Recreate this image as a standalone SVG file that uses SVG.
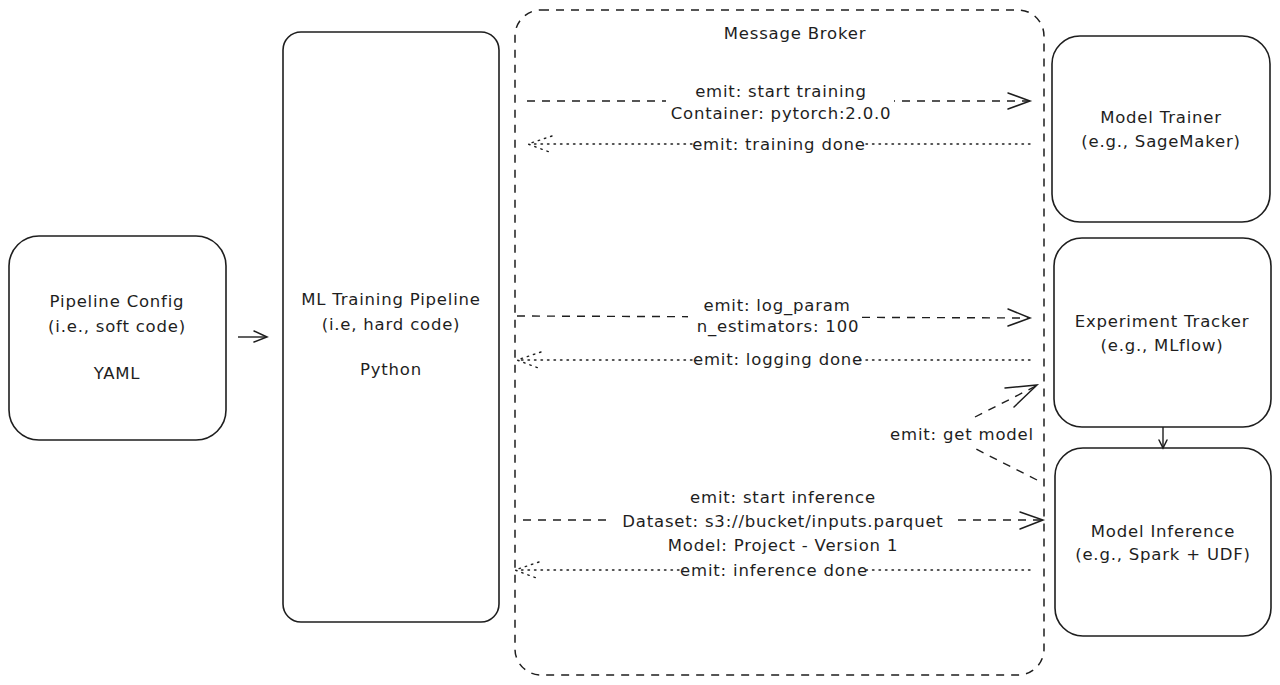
<svg xmlns="http://www.w3.org/2000/svg" width="1280" height="685" viewBox="0 0 1280 685">
<style>
.box{fill:#fff;stroke:#1e1e1e;stroke-width:1.6}
.broker{fill:none;stroke:#1e1e1e;stroke-width:1.5;stroke-dasharray:8 7}
.t{font-family:"DejaVu Sans","Liberation Sans",sans-serif;font-size:16.5px;letter-spacing:0.8px;fill:#1e1e1e;text-anchor:middle;dominant-baseline:middle}
.dash{fill:none;stroke:#1e1e1e;stroke-width:1.4;stroke-dasharray:8 7}
.dot{fill:none;stroke:#1e1e1e;stroke-width:1.4;stroke-dasharray:1.5 5;stroke-linecap:round}
.solid{fill:none;stroke:#1e1e1e;stroke-width:1.4}
.head{fill:none;stroke:#1e1e1e;stroke-width:1.5;stroke-linecap:round}
.bg{fill:#fff}
</style>
<rect width="1280" height="685" fill="#fff"/>
<g id="broker">
<rect class="broker" x="515" y="10" width="529" height="665" rx="26"/>
<text class="t" x="795" y="34">Message Broker</text>
</g>
<g id="pipeline-config">
<rect class="box" x="9" y="236" width="217" height="204" rx="30"/>
<text class="t" x="117" y="302">Pipeline Config</text>
<text class="t" x="117" y="327">(i.e., soft code)</text>
<text class="t" x="117" y="374">YAML</text>
</g>
<g id="ml-training-pipeline">
<rect class="box" x="283" y="32" width="216" height="590" rx="18"/>
<text class="t" x="391" y="300">ML Training Pipeline</text>
<text class="t" x="391" y="325">(i.e, hard code)</text>
<text class="t" x="391" y="370">Python</text>
</g>
<g id="model-trainer">
<rect class="box" x="1052" y="36" width="218" height="186" rx="28"/>
<text class="t" x="1161" y="118">Model Trainer</text>
<text class="t" x="1161" y="142">(e.g., SageMaker)</text>
</g>
<g id="experiment-tracker">
<rect class="box" x="1054" y="238" width="217" height="189" rx="28"/>
<text class="t" x="1162" y="322">Experiment Tracker</text>
<text class="t" x="1162" y="346">(e.g., MLflow)</text>
</g>
<g id="model-inference">
<rect class="box" x="1055" y="448" width="216" height="188" rx="28"/>
<text class="t" x="1163" y="532">Model Inference</text>
<text class="t" x="1163" y="555">(e.g., Spark + UDF)</text>
</g>
<g id="connectors">
<!-- config -> pipeline -->
<line class="solid" x1="238" y1="337" x2="266" y2="337"/>
<path class="head" d="M254,331 L267,337 L254,342"/>
<!-- start training -->
<line class="dash" x1="527" y1="101" x2="1029" y2="101"/>
<path class="head" d="M1008,93 L1030,101 L1008,109"/>
<rect class="bg" x="666" y="82" width="228" height="42"/>
<text class="t" x="781" y="92">emit: start training</text>
<text class="t" x="781" y="114">Container: pytorch:2.0.0</text>
<!-- training done -->
<line class="dot" x1="1030" y1="144" x2="530" y2="144"/>
<path class="dot" d="M552,136 L528,144 L552,153"/>
<rect class="bg" x="693" y="135" width="171" height="20"/>
<text class="t" x="779" y="145">emit: training done</text>
<!-- log param -->
<line class="dash" x1="517" y1="316" x2="1029" y2="318"/>
<path class="head" d="M1008,309 L1030,318 L1008,326"/>
<rect class="bg" x="688" y="296" width="172" height="42"/>
<text class="t" x="777" y="306">emit: log_param</text>
<text class="t" x="778" y="327">n_estimators: 100</text>
<!-- logging done -->
<line class="dot" x1="1030" y1="360" x2="519" y2="360"/>
<path class="dot" d="M541,352 L517,360 L541,369"/>
<rect class="bg" x="697" y="350" width="161" height="20"/>
<text class="t" x="778" y="360">emit: logging done</text>
<!-- get model -->
<path class="dash" d="M1037,480 L972,447 M975,417 L1036,386"/>
<path class="head" d="M1005,388 L1037,385 L1014,407"/>
<text class="t" x="962" y="435">emit: get model</text>
<!-- start inference -->
<line class="dash" x1="523" y1="520" x2="1042" y2="520"/>
<path class="head" d="M1020,512 L1043,520 L1020,529"/>
<rect class="bg" x="610" y="487" width="347" height="70"/>
<text class="t" x="783" y="498">emit: start inference</text>
<text class="t" x="783" y="522">Dataset: s3://bucket/inputs.parquet</text>
<text class="t" x="783" y="546">Model: Project - Version 1</text>
<!-- inference done -->
<line class="dot" x1="1030" y1="570" x2="517" y2="570"/>
<path class="dot" d="M539,562 L515,570 L539,579"/>
<rect class="bg" x="684" y="561" width="180" height="20"/>
<text class="t" x="774" y="571">emit: inference done</text>
<!-- tracker -> inference -->
<line class="solid" x1="1163" y1="427" x2="1163" y2="447"/>
<path class="head" d="M1159,440 L1163,448 L1167,440"/>
</g>
</svg>
